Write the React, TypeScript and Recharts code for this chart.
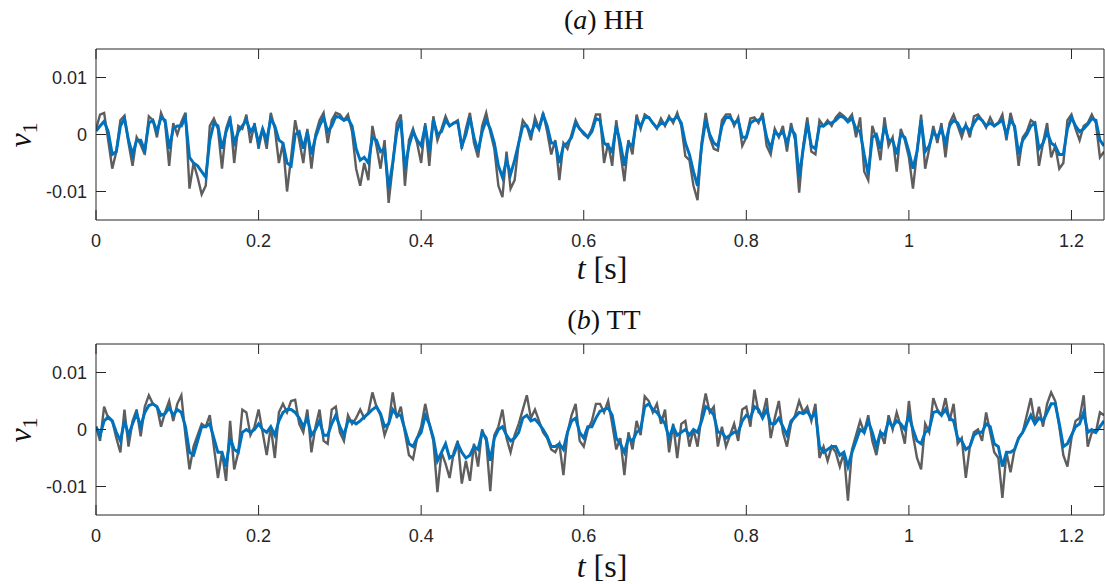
import { LineChart, Line, XAxis, YAxis } from 'recharts';

// velocity samples, in units of 1e-3, sampled every 5 ms from t = 0
const sampleStep = 0.005;

const hhRaw = [
  0.9, 3.5, 3.8, -1.0, -6.0, -3.0, 2.5, 3.3, -1.5, -5.5,
  -0.5, -1.8, -3.5, 3.2, 2.5, -0.5, 3.8, 2.0, -5.5, 2.0,
  0.0, 2.2, 3.8, -9.5, -5.0, -7.5, -10.5, -9.0, 1.5, 2.8,
  1.0, -6.0, 1.0, 3.2, -5.0, 1.5, 1.0, 3.5, -1.5, 2.0,
  -2.5, 1.0, -2.5, 3.8, 1.0, -5.0, -1.5, -10.0, -4.0, 2.5,
  -1.0, -5.0, 1.0, -6.0, 0.0, 2.5, 3.8, -1.5, 2.5, 3.8,
  3.5, 2.5, 3.5, 0.5, -6.0, -9.0, -5.0, -8.0, 1.5, -2.0,
  -6.0, -1.0, -12.0, -5.5, 2.0, 3.5, -9.0, -1.0, 1.0, -1.5,
  -5.0, 2.0, -5.5, 3.2, -1.0, 1.0, 3.2, 1.5, 2.0, 2.5,
  -2.5, 1.0, 3.8, -1.5, -4.0, 1.5, 3.8, 0.5, -2.5, -9.0,
  -11.0, -3.0, -9.5, -8.0, -1.5, 2.5, 1.5, -1.0, 3.0, 1.0,
  3.8, 0.5, -3.5, -1.0, -8.0, -1.5, -2.5, 0.0, 2.5, 1.0,
  0.0, -0.5, 1.0, 3.5, 3.5, -5.0, -1.5, -5.5, 2.5, -3.0,
  -8.2, -1.0, -3.5, 3.5, 1.0, 3.5, 3.0, 2.0, 1.0, 2.8,
  1.5, 3.2, 2.0, 3.8, 1.5, -3.8, -4.5, -9.0, -11.5, -1.5,
  3.8, -0.5, -2.5, -2.8, 2.5, 3.5, 3.5, 1.5, 3.0, -2.0,
  -0.5, 2.8, 3.0, 2.0, 3.8, -2.0, -3.5, 1.0, -0.5, 1.5,
  -3.0, 2.0, -1.0, -10.2, -2.0, 3.0, -3.0, -3.5, 2.5, 1.5,
  2.5, 1.5, 3.0, 3.8, 3.2, 2.5, 3.5, -0.5, 3.0, -6.5,
  -8.0, 1.5, -0.8, -4.5, 3.0, -2.0, -0.5, -6.5, 1.0, -1.0,
  -4.0, -9.5, -3.0, 3.5, -6.0, -2.5, 1.5, -1.5, 2.0, -4.0,
  2.0, 3.5, 1.5, -0.5, 1.8, -0.5, 3.2, 3.5, 2.5, 1.2,
  3.0, 1.5, 2.0, 3.5, -1.0, 3.8, 1.0, -5.5, -0.5, 0.5,
  2.5, 2.0, -5.5, -1.5, 2.0, -4.0, -2.0, -6.0, -5.0, 2.5,
  3.5, 1.0, -1.0, 1.5, 2.0, 3.5, 2.0, -4.0, -3.0,
];

const hhFiltered = [
  0.6, 1.5, 2.3, 0.5, -3.5, -3.0, 1.5, 2.8, -1.0, -3.5,
  -1.0, -1.0, -2.8, 2.0, 2.5, 0.5, 3.0, 2.5, -2.5, 1.0,
  1.5, 1.5, 3.0, -4.0, -5.0, -5.5, -6.5, -7.5, -1.0, 2.0,
  1.5, -2.5, 0.5, 2.5, -1.5, 0.5, 1.5, 2.5, 0.5, 1.5,
  -1.5, 1.0, -1.0, 2.8, 1.5, -1.0, -1.5, -5.0, -5.5, 0.0,
  0.5, -2.5, 0.5, -3.5, -0.5, 1.5, 3.0, 0.5, 1.5, 3.2,
  3.0, 2.5, 2.8, 1.5, -2.5, -4.5, -4.0, -5.0, -0.5, -1.0,
  -3.0, -2.5, -9.5, -5.0, 0.5, 2.5, -6.0, -2.0, 0.5, -1.0,
  -2.0, 1.5, -3.0, 2.5, 0.0, 0.5, 2.5, 1.5, 2.0, 2.2,
  -2.0, 0.0, 3.0, -0.5, -3.0, 0.5, 2.5, 1.0, -1.5, -5.5,
  -7.5, -4.5, -7.0, -4.5, -1.5, 1.5, 1.5, 0.0, 2.0, 1.0,
  3.5, 1.5, -1.5, -1.5, -5.0, -2.0, -1.5, -0.5, 2.0, 1.0,
  0.3, -0.5, 0.5, 2.8, 2.5, -1.5, -2.0, -3.0, 1.5, -1.5,
  -5.5, -1.5, -2.0, 2.5, 1.5, 3.0, 3.0, 2.0, 1.2, 2.0,
  1.8, 2.8, 2.5, 3.2, 2.0, -1.5, -3.5, -6.5, -9.0, -2.0,
  2.5, 0.0, -1.5, -2.0, 1.5, 3.0, 3.0, 2.0, 2.5, -0.5,
  -0.5, 2.0, 2.5, 2.5, 3.0, -0.5, -2.5, 0.5, -0.2, 0.5,
  -1.5, 1.0, 0.0, -7.5, -2.5, 2.0, -2.0, -2.5, 1.5, 1.5,
  2.0, 2.0, 2.5, 3.2, 3.0, 2.2, 2.8, 1.0, 0.5, -3.5,
  -7.0, -0.5, 0.0, -2.5, 1.5, -1.0, -1.0, -3.5, 0.0, -0.5,
  -3.0, -6.0, -3.0, 2.5, -3.0, -2.0, 0.5, -0.5, 1.0, -1.5,
  1.5, 2.5, 2.0, 0.5, 1.5, 0.5, 2.0, 3.0, 2.5, 1.5,
  2.0, 1.5, 2.0, 2.5, 0.0, 2.5, 1.5, -3.5, -1.0, 0.0,
  1.5, 2.0, -2.5, -1.5, 0.5, -1.5, -2.0, -3.5, -3.5, 1.0,
  3.0, 1.5, 0.5, 1.0, 1.8, 2.8, 2.5, -1.0, -2.0,
];

const ttRaw = [
  0.5, -2.0, 4.0, 2.0, 1.5, -1.5, -4.0, 3.5, -3.0, 1.5,
  3.5, -1.2, 4.0, 6.0, 4.5, 4.0, 0.5, 3.0, 5.0, 1.5,
  4.5, 6.0, -1.0, -7.0, -3.0, -1.0, 1.0, 0.5, 2.5, -3.0,
  -8.5, -4.0, -9.0, 1.5, -7.0, -4.0, 3.5, 3.0, -1.0, 0.5,
  3.5, -0.5, -4.5, 0.5, -5.0, 3.0, 4.5, 3.0, 5.0, 5.2,
  1.0, -0.5, 3.5, -4.0, 0.5, 3.5, -2.0, -2.5, 3.5, 4.0,
  -0.5, -2.0, 2.5, 1.0, 2.0, 3.5, 2.0, 3.0, 6.5, 4.0,
  2.5, -1.0, 1.0, 6.5, 2.0, 4.0, -0.5, -4.5, -5.2, -1.5,
  0.5, 4.5, 1.0, -2.0, -11.0, -4.0, -6.0, -8.5, -4.0, -2.0,
  -9.5, -5.5, -9.0, -2.5, -6.5, 0.0, -2.0, -10.8, -1.0, 0.5,
  3.5, -1.5, -4.0, -1.0, 1.0, 3.5, 6.0, 2.0, 3.5, 1.5,
  -0.5, -1.5, -3.5, -4.0, -2.5, -8.0, -0.5, 2.5, 4.5, -2.0,
  -3.0, 0.0, 1.5, 4.5, 4.5, 3.0, 5.0, 1.0, -3.5, -1.5,
  -8.0, -0.5, -3.5, 1.5, -1.0, 5.8, 5.0, 3.0, 4.5, 1.0,
  3.5, -4.0, 1.0, -5.0, 1.0, 1.5, -3.0, 0.0, -3.0, 2.5,
  6.3, 3.0, 4.0, -3.0, 0.5, -3.0, -1.0, 1.0, -2.0, 3.5,
  4.0, 0.5, 7.0, 3.0, 2.5, 5.5, -1.5, 2.0, 5.0, -0.5,
  -3.0, 1.0, 2.5, 5.0, 3.0, 4.0, 1.5, 4.5, -5.0, -3.0,
  -5.5, -3.0, -4.0, -6.5, -4.0, -12.5, -3.5, -1.0, 1.5, -0.5,
  2.5, -2.0, -4.5, -0.5, -2.5, 2.5, 0.0, 3.0, 0.5, -2.5,
  5.0, -1.0, -5.0, -7.0, 1.0, -0.5, 5.5, 3.5, 2.5, 5.5,
  1.5, 4.5, -2.5, -1.5, -8.5, -3.0, -0.5, 0.0, -2.0, 3.0,
  -0.5, -4.0, -5.0, -12.0, -4.0, -7.5, -3.5, -1.5, -0.5, 2.5,
  5.5, 1.0, 4.0, 0.5, 4.5, 6.5, 5.0, 0.5, -4.5, -6.5,
  -1.5, 1.5, 2.0, 6.0, -3.0, -0.5, -0.5, 3.0, 2.5,
];

const ttFiltered = [
  0.5, -1.0, 1.5, 2.2, 1.5, -0.5, -2.0, 1.5, -1.0, 1.0,
  2.8, 0.5, 3.0, 4.2, 4.5, 4.0, 2.5, 2.8, 3.8, 2.5,
  3.5, 3.0, 0.5, -4.0, -4.5, -2.0, 0.5, 0.5, 1.0, -1.5,
  -4.0, -4.0, -6.5, -1.5, -3.5, -4.0, -0.5, 0.0, -0.5, 0.0,
  1.0, 0.0, -0.5, 0.5, -1.0, 1.5, 3.0, 3.5, 3.5, 3.0,
  2.0, 0.5, 2.0, -1.0, 0.0, 1.5, -1.0, -1.0, 1.0, 2.5,
  0.5, -1.0, 1.5, 1.5, 1.0, 1.5, 2.2, 2.8, 3.5, 4.0,
  2.8, 0.5, 1.0, 3.5, 2.5, 2.5, 0.0, -2.5, -3.0, -1.5,
  -0.5, 2.5, 1.0, -1.5, -5.5, -4.0, -2.5, -5.0, -4.5, -2.5,
  -4.0, -5.0, -4.5, -3.0, -3.5, -0.5, -1.5, -5.5, -1.5, 0.0,
  0.5, -1.0, -2.0, -1.5, -0.5, 2.0, 2.5, 1.5, 1.8, 1.0,
  0.0, -1.2, -3.0, -3.0, -2.5, -3.5, -0.5, 1.5, 2.0, -0.5,
  -1.5, 0.5, 0.5, 2.0, 3.2, 3.5, 3.8, 2.5, -1.5, -2.5,
  -4.0, -1.5, -2.0, -0.5, 0.0, 4.0, 4.5, 3.5, 3.0, 2.0,
  1.0, -1.5, 0.5, -1.0, -0.5, 0.0, -1.0, 0.0, -0.5, 1.5,
  4.0, 3.5, 2.5, -0.5, -0.5, -1.5, -1.0, -0.5, -0.5, 1.5,
  2.5, 2.0, 4.0, 3.5, 2.0, 3.5, 1.0, 1.0, 2.0, 0.5,
  -1.0, 1.5, 2.2, 3.0, 2.8, 3.2, 2.0, 3.0, -3.0, -4.0,
  -3.5, -3.0, -3.0, -4.5, -4.0, -6.5, -4.0, -2.0, 0.0, -0.5,
  1.5, -0.5, -3.0, -0.5, -1.0, 1.5, 0.5, 1.5, 1.0, 0.0,
  2.5, 0.0, -2.0, -2.5, -0.5, 0.0, 3.0, 3.2, 2.5, 3.5,
  2.0, 1.5, -1.5, -2.0, -3.5, -3.0, -1.0, -0.5, -0.5, 1.0,
  0.5, -2.5, -3.0, -6.5, -4.0, -4.0, -3.5, -1.5, -0.5, 1.0,
  2.5, 1.0, 2.0, 1.5, 3.0, 4.5, 4.5, 1.0, -3.0, -2.5,
  -1.0, 0.5, 1.0, 3.0, -0.5, 0.0, -0.5, 0.5, 1.5,
];

const tTicks = [0, 0.2, 0.4, 0.6, 0.8, 1, 1.2];
const vTicks = [-10, 0, 10];

const axisColor = '#262626';
const tickFamily = 'Liberation Sans, Arial, sans-serif';
const serif = '"Liberation Serif", "DejaVu Serif", serif';
const TICK = 10;

function buildRows(raw: number[], filtered: number[]) {
  return raw.map((v, i) => ({ t: +(i * sampleStep).toFixed(3), raw: v, filtered: filtered[i] }));
}

// MATLAB style: ticks point into the box
const BottomTick = (p: any) => (
  <g>
    <line x1={p.x} x2={p.x} y1={p.y - 14} y2={p.y - 14 - TICK} stroke={axisColor} strokeWidth={1} />
    <text x={p.x} y={p.y} dy="0.71em" textAnchor="middle" fontFamily={tickFamily} fontSize={18} fill={axisColor}>
      {String(p.payload.value)}
    </text>
  </g>
);
const TopTick = (p: any) => (
  <line x1={p.x} x2={p.x} y1={p.y} y2={p.y + TICK} stroke={axisColor} strokeWidth={1} />
);
const LeftTick = (p: any) => (
  <g>
    <line x1={p.x + 9} x2={p.x + 9 + TICK} y1={p.y} y2={p.y} stroke={axisColor} strokeWidth={1} />
    <text x={p.x} y={p.y} dy="0.35em" textAnchor="end" fontFamily={tickFamily} fontSize={18} fill={axisColor}>
      {String(p.payload.value / 1000)}
    </text>
  </g>
);
const RightTick = (p: any) => (
  <line x1={p.x} x2={p.x - TICK} y1={p.y} y2={p.y} stroke={axisColor} strokeWidth={1} />
);

function Panel({ raw, filtered }: { raw: number[]; filtered: number[] }) {
  const rows = buildRows(raw, filtered);
  return (
    <LineChart width={1105} height={300} data={rows} margin={{ top: 48, right: 0, bottom: 0, left: 0 }}>
      <XAxis
        xAxisId="b"
        dataKey="t"
        type="number"
        domain={[0, 1.24]}
        ticks={tTicks}
        allowDataOverflow
        height={80}
        tickSize={0}
        tickMargin={14}
        tickLine={false}
        stroke={axisColor}
        tick={BottomTick}
      />
      <XAxis
        xAxisId="top"
        orientation="top"
        dataKey="t"
        type="number"
        domain={[0, 1.24]}
        ticks={tTicks}
        allowDataOverflow
        height={1}
        tickSize={0}
        tickMargin={0}
        tickLine={false}
        stroke={axisColor}
        tick={TopTick}
      />
      <YAxis
        yAxisId="l"
        type="number"
        domain={[-15, 15]}
        ticks={vTicks}
        allowDataOverflow
        width={96}
        tickSize={0}
        tickMargin={9}
        tickLine={false}
        stroke={axisColor}
        tick={LeftTick}
      />
      <YAxis
        yAxisId="r"
        orientation="right"
        type="number"
        domain={[-15, 15]}
        ticks={vTicks}
        allowDataOverflow
        width={1}
        tickSize={0}
        tickMargin={0}
        tickLine={false}
        stroke={axisColor}
        tick={RightTick}
      />
      {/* invisible copy so the mirrored box axes (top / right) get drawn */}
      <Line
        xAxisId="top"
        yAxisId="r"
        type="linear"
        dataKey="filtered"
        stroke="none"
        dot={false}
        activeDot={false}
        legendType="none"
        isAnimationActive={false}
      />
      <Line
        xAxisId="b"
        yAxisId="l"
        type="linear"
        dataKey="raw"
        stroke="#5e5e5e"
        strokeWidth={2.4}
        dot={false}
        isAnimationActive={false}
      />
      <Line
        xAxisId="b"
        yAxisId="l"
        type="linear"
        dataKey="filtered"
        stroke="#0072BD"
        strokeWidth={3}
        dot={false}
        isAnimationActive={false}
      />
    </LineChart>
  );
}

function Labels() {
  const common = { fontFamily: serif, fill: '#111' };
  return (
    <svg width={1105} height={584} style={{ position: 'absolute', left: 0, top: 0, pointerEvents: 'none' }}>
      <text x={604} y={29} textAnchor="middle" fontSize={28} {...common}>
        (<tspan fontStyle="italic">a</tspan>) HH
      </text>
      <text x={604} y={329} textAnchor="middle" fontSize={28} {...common}>
        (<tspan fontStyle="italic">b</tspan>) TT
      </text>
      <text x={602} y={279} textAnchor="middle" fontSize={32} {...common}>
        <tspan fontStyle="italic">t</tspan> [s]
      </text>
      <text x={602} y={577} textAnchor="middle" fontSize={32} {...common}>
        <tspan fontStyle="italic">t</tspan> [s]
      </text>
      <text transform="translate(31,135) rotate(-90)" textAnchor="middle" fontSize={32} {...common}>
        <tspan fontStyle="italic">v</tspan>
        <tspan fontSize={22} dy={6}>1</tspan>
      </text>
      <text transform="translate(31,430) rotate(-90)" textAnchor="middle" fontSize={32} {...common}>
        <tspan fontStyle="italic">v</tspan>
        <tspan fontSize={22} dy={6}>1</tspan>
      </text>
    </svg>
  );
}

export default function App() {
  return (
    <div style={{ position: 'absolute', left: 0, top: 0, width: 1105, height: 584, background: '#fff', overflow: 'hidden' }}>
      <div style={{ position: 'absolute', left: 0, top: 0 }}>
        <Panel raw={hhRaw} filtered={hhFiltered} />
      </div>
      <div style={{ position: 'absolute', left: 0, top: 295 }}>
        <Panel raw={ttRaw} filtered={ttFiltered} />
      </div>
      <Labels />
    </div>
  );
}
